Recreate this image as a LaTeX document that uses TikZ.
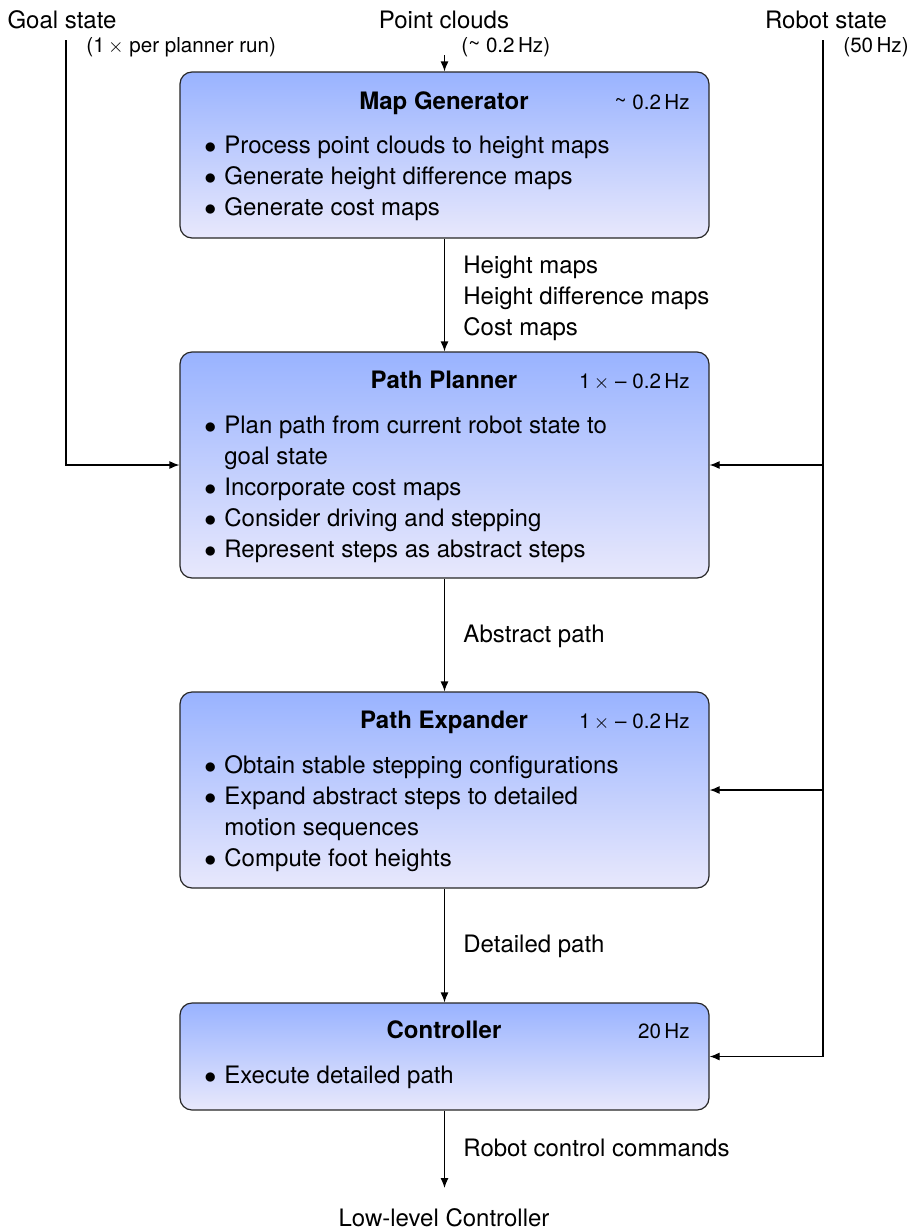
\documentclass[tikz,border=0pt]{standalone}
\usepackage{fontspec}
\setmainfont{TeX Gyre Heros}
\usetikzlibrary{arrows.meta}
\definecolor{boxtop}{RGB}{153,179,255}
\definecolor{boxbottom}{RGB}{232,232,252}
\begin{document}
\begin{tikzpicture}[x=0.5pt,y=-0.5pt,
  font=\fontsize{12}{15.5}\selectfont,
  stage/.style={draw=black!85, line width=0.6pt, rounded corners=6pt,
    top color=boxtop, bottom color=boxbottom, minimum width=264.5pt,
    inner sep=0pt},
  title/.style={anchor=base, font=\fontsize{12}{15.5}\selectfont\bfseries, inner sep=0pt},
  rate/.style={anchor=base east, inner sep=0pt, font=\fontsize{10.3}{12}\selectfont},
  items/.style={anchor=base west, inner sep=0pt},
  lbl/.style={anchor=base west, inner sep=0pt},
  sublbl/.style={anchor=base west, inner sep=0pt, font=\fontsize{10.3}{12}\selectfont},
  conn/.style={line width=0.6pt, -{Latex[length=5pt,width=4pt]}},
  wire/.style={line width=0.6pt}]
\useasboundingbox (0,0) rectangle (908,1231);
\newcommand{\bulletlist}[1]{\begin{tabular}[t]{@{}l@{\hspace{4pt}}l@{}}#1\end{tabular}}
\newcommand{\linelist}[1]{\begin{tabular}[t]{@{}l@{}}#1\end{tabular}}
\newcommand{\approxsym}{\raisebox{0.15ex}{\textasciitilde}}

% stage boxes
\node[stage, minimum height=83pt]  (mg)   at (444.5,155)   {};
\node[stage, minimum height=113pt] (pp)   at (444.5,465)   {};
\node[stage, minimum height=98pt]  (pe)   at (444.5,790)   {};
\node[stage, minimum height=53.5pt](ctrl) at (444.5,1056.5){};

% inputs
\node[anchor=base, inner sep=0pt] (goal)   at (62,28.5)  {Goal state};
\node[anchor=base, inner sep=0pt] (clouds) at (444,28.5) {Point clouds};
\node[anchor=base, inner sep=0pt] (robot)  at (826,28.5) {Robot state};
\node[sublbl] (goalrate)   at (86,52.5)  {(1\,$\times$ per planner run)};
\node[sublbl] (cloudsrate) at (461,52.5) {(\approxsym\ 0.2\,Hz)};
\node[sublbl] (robotrate)  at (843,52.5) {(50\,Hz)};

% Map Generator
\node[title] (mgt) at (444,109.5) {Map Generator};
\node[rate]  (mgr) at (690,109.5) {\approxsym\ 0.2\,Hz};
\node[items] (mgi) at (204,153.5) {\bulletlist{%
  $\bullet$ & Process point clouds to height maps\\
  $\bullet$ & Generate height difference maps\\
  $\bullet$ & Generate cost maps}};

% Path Planner
\node[title] (ppt) at (444,388.5) {Path Planner};
\node[rate]  (ppr) at (690,388.5) {1\,$\times$ -- 0.2\,Hz};
\node[items] (ppi) at (204,433.5) {\bulletlist{%
  $\bullet$ & Plan path from current robot state to\\
            & goal state\\
  $\bullet$ & Incorporate cost maps\\
  $\bullet$ & Consider driving and stepping\\
  $\bullet$ & Represent steps as abstract steps}};

% Path Expander
\node[title] (pet) at (444,728.5) {Path Expander};
\node[rate]  (per) at (690,728.5) {1\,$\times$ -- 0.2\,Hz};
\node[items] (pei) at (204,773.5) {\bulletlist{%
  $\bullet$ & Obtain stable stepping configurations\\
  $\bullet$ & Expand abstract steps to detailed\\
            & motion sequences\\
  $\bullet$ & Compute foot heights}};

% Controller
\node[title] (ct)  at (444,1038.5) {Controller};
\node[rate]  (cr)  at (690,1038.5) {20\,Hz};
\node[items] (ci)  at (204,1083.5) {\bulletlist{%
  $\bullet$ & Execute detailed path}};

% data passed between stages
\node[lbl] (maps) at (463,273.5) {\linelist{Height maps\\Height difference maps\\Cost maps}};
\node[lbl] (abs)  at (463,642.5)  {Abstract path};
\node[lbl] (det)  at (463,952.5)  {Detailed path};
\node[lbl] (cmd)  at (463,1156.5) {Robot control commands};
\node[anchor=base, inner sep=0pt] (low) at (444,1226.5) {Low-level Controller};

% main chain
\coordinate (cloudsin) at (444.5,55);
\coordinate (lowin) at (444.5,1188);
\draw[conn] (cloudsin) -- (mg.north);
\draw[conn] (mg.south) -- (pp.north);
\draw[conn] (pp.south) -- (pe.north);
\draw[conn] (pe.south) -- (ctrl.north);
\draw[conn] (ctrl.south) -- (lowin);

% goal state feed
\coordinate (goalin) at (66,40);
\draw[conn] (goalin) |- (pp.west);

% robot state feed
\coordinate (robotin) at (823,40);
\draw[conn] (robotin) |- (ctrl.east);
\draw[conn] (robotin |- pp.east) -- (pp.east);
\draw[conn] (robotin |- pe.east) -- (pe.east);
\end{tikzpicture}
\end{document}
